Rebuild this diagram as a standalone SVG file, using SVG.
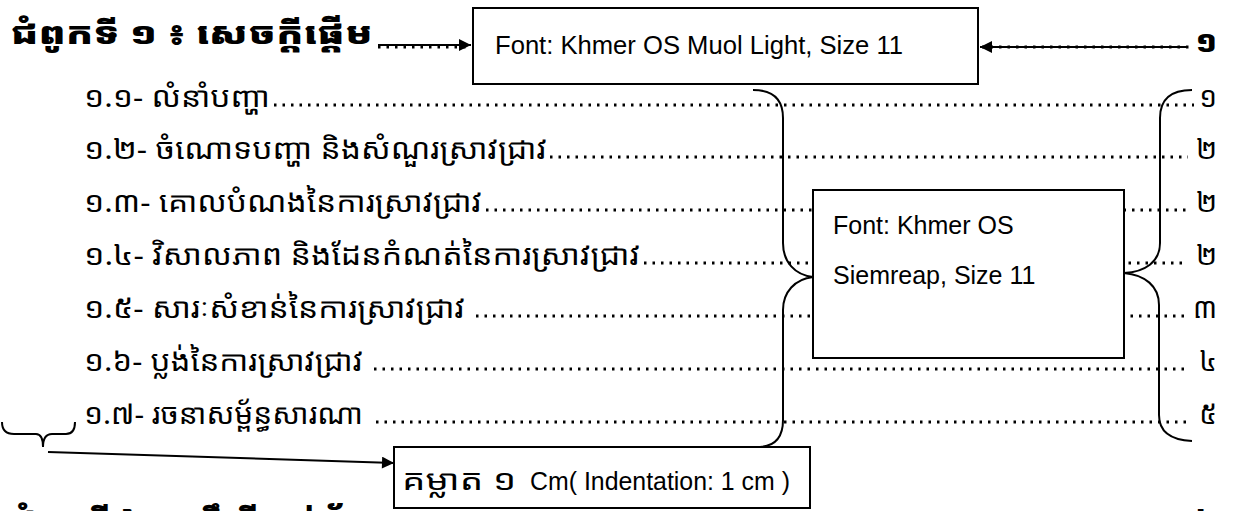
<svg xmlns="http://www.w3.org/2000/svg" width="1240" height="511" viewBox="0 0 1240 511">
<style>
.km{font-family:"Khmer OS Siemreap","Noto Sans Khmer","Noto Serif Khmer","Khmer OS","DejaVu Sans",sans-serif;font-size:28px;fill:#000}
.kmb{font-family:"Khmer OS Muol Light","Noto Sans Khmer","Noto Serif Khmer","Khmer OS","DejaVu Sans",sans-serif;font-size:31px;font-weight:900;fill:#000}
.lat{font-family:"Liberation Sans",Arial,sans-serif;font-size:25px;fill:#000}
.box{fill:#fff;stroke:#000;stroke-width:2}
.dots{stroke:#000;stroke-width:3;stroke-dasharray:2.5 6}
.conn{fill:none;stroke:#000;stroke-width:2}
</style>
<defs>
<marker id="ah" viewBox="0 0 10 10" refX="10" refY="5" markerWidth="7" markerHeight="6" orient="auto" markerUnits="strokeWidth">
<path d="M0,0 L10,5 L0,10 z" fill="#000"/>
</marker>
</defs>
<rect width="1240" height="511" fill="#fff"/>

<g id="leaders">
<line class="dots" x1="378" y1="47" x2="470" y2="47"/>
<line class="dots" x1="982" y1="47" x2="1194" y2="47"/>
<line class="dots" x1="274" y1="105" x2="1194" y2="105"/>
<line class="dots" x1="550" y1="157" x2="1188" y2="157"/>
<line class="dots" x1="486" y1="210" x2="1188" y2="210"/>
<line class="dots" x1="644" y1="263" x2="1188" y2="263"/>
<line class="dots" x1="476" y1="316" x2="1188" y2="316"/>
<line class="dots" x1="374" y1="369" x2="1188" y2="369"/>
<line class="dots" x1="376" y1="422" x2="1188" y2="422"/>
</g>

<g id="heading1">
<text class="kmb" x="10" y="44" textLength="363" lengthAdjust="spacingAndGlyphs">ជំពូកទី ១ ៖ សេចក្តីផ្តើម</text>
<text class="kmb" x="1217" y="52" text-anchor="end">១</text>
</g>

<g id="toc-1"><text class="km" x="84" y="107" textLength="186" lengthAdjust="spacingAndGlyphs">១.១- លំនាំបញ្ហា</text><text class="km" x="1217" y="107" text-anchor="end">១</text></g>
<g id="toc-2"><text class="km" x="84" y="159" textLength="463" lengthAdjust="spacingAndGlyphs">១.២- ចំណោទបញ្ហា និងសំណួរស្រាវជ្រាវ</text><text class="km" x="1217" y="159" text-anchor="end">២</text></g>
<g id="toc-3"><text class="km" x="84" y="212" textLength="398" lengthAdjust="spacingAndGlyphs">១.៣- គោលបំណងនៃការស្រាវជ្រាវ</text><text class="km" x="1217" y="212" text-anchor="end">២</text></g>
<g id="toc-4"><text class="km" x="84" y="265" textLength="556" lengthAdjust="spacingAndGlyphs">១.៤- វិសាលភាព និងដែនកំណត់នៃការស្រាវជ្រាវ</text><text class="km" x="1217" y="265" text-anchor="end">២</text></g>
<g id="toc-5"><text class="km" x="84" y="318" textLength="381" lengthAdjust="spacingAndGlyphs">១.៥- សារៈសំខាន់នៃការស្រាវជ្រាវ</text><text class="km" x="1217" y="318" text-anchor="end">៣</text></g>
<g id="toc-6"><text class="km" x="84" y="371" textLength="279" lengthAdjust="spacingAndGlyphs">១.៦- ប្លង់នៃការស្រាវជ្រាវ</text><text class="km" x="1217" y="371" text-anchor="end">៤</text></g>
<g id="toc-7"><text class="km" x="84" y="424" textLength="279" lengthAdjust="spacingAndGlyphs">១.៧- រចនាសម្ព័ន្ធសារណា</text><text class="km" x="1217" y="424" text-anchor="end">៥</text></g>

<g id="heading2">
<text class="kmb" x="10" y="531" textLength="363" lengthAdjust="spacingAndGlyphs">ជំពូកទី ២ ៖ ទ្រឹស្តីពាក់ព័ន្ធ</text>
<text class="kmb" x="1217" y="531" text-anchor="end">៦</text>
</g>

<g id="box-muol">
<rect class="box" x="473" y="8" width="505" height="76"/>
<text class="lat" x="495" y="54" textLength="408" lengthAdjust="spacingAndGlyphs">Font: Khmer OS Muol Light, Size 11</text>
</g>

<g id="box-siemreap">
<rect class="box" x="813" y="190" width="311" height="168"/>
<text class="lat" x="833" y="234">Font: Khmer OS</text>
<text class="lat" x="833" y="284">Siemreap, Size 11</text>
</g>

<g id="box-indent">
<rect class="box" x="394" y="447" width="416" height="61"/>
<text class="km" x="402" y="490" font-size="27"><tspan textLength="124" lengthAdjust="spacingAndGlyphs">គម្លាត ១ </tspan><tspan x="530" font-family="'Liberation Sans',Arial,sans-serif" font-size="25" textLength="260" lengthAdjust="spacingAndGlyphs">Cm( Indentation: 1 cm )</tspan></text>
</g>

<g id="connectors">
<line class="conn" x1="378" y1="45" x2="471" y2="45" marker-end="url(#ah)"/>
<line class="conn" x1="1188" y1="47" x2="980" y2="47" marker-end="url(#ah)"/>
<path class="conn" d="M753 90 C773 90 783 100 783 118 L783 243 C783 262 795 275 813 277 C795 279 783 292 783 310 L783 420 C783 437 775 446 760 447"/>
<path class="conn" d="M1192 90 C1170 90 1160 100 1160 118 L1160 243 C1160 262 1145 272 1124 273 C1145 275 1159 286 1159 305 L1159 415 C1159 432 1170 440 1192 441"/>
<path class="conn" d="M2 422 C2 430 6 434 14 434 L36 434 C40 434 43 438 43 447 C43 438 46 434 52 434 L66 434 C72 434 75 430 75 422"/>
<line class="conn" x1="48" y1="452" x2="394" y2="463" marker-end="url(#ah)"/>
</g>
</svg>
